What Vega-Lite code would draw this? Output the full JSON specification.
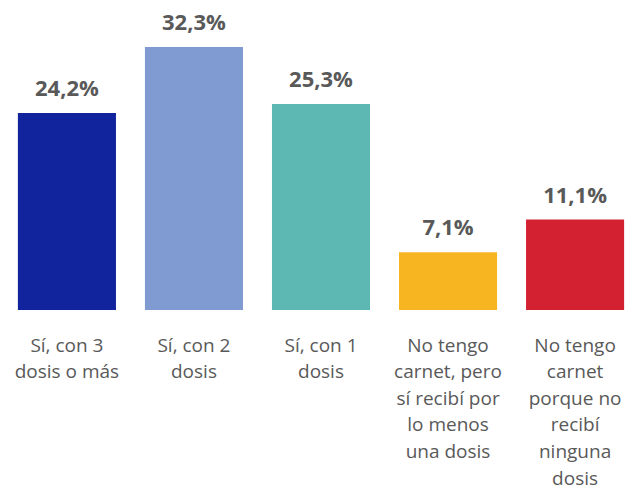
{
  "$schema": "https://vega.github.io/schema/vega-lite/v6.json",
  "width": 624,
  "height": 285,
  "autosize": {"type": "none"},
  "padding": {"left": 9, "top": 25, "right": 2, "bottom": 179},
  "background": "white",
  "config": {"view": {"stroke": null}, "font": "Open Sans"},
  "data": {
    "values": [
      {"cat": "Sí, con 3|dosis o más", "pct": 24.2, "label": "24,2%", "color": "#12239E"},
      {"cat": "Sí, con 2|dosis", "pct": 32.3, "label": "32,3%", "color": "#7F9BD1"},
      {"cat": "Sí, con 1|dosis", "pct": 25.3, "label": "25,3%", "color": "#5DB7B2"},
      {"cat": "No tengo|carnet, pero|sí recibí por|lo menos|una dosis", "pct": 7.1, "label": "7,1%", "color": "#F7B521"},
      {"cat": "No tengo|carnet|porque no|recibí|ninguna|dosis", "pct": 11.1, "label": "11,1%", "color": "#D42131"}
    ]
  },
  "encoding": {
    "x": {
      "field": "cat",
      "type": "nominal",
      "sort": null,
      "scale": {"paddingInner": 0.228, "paddingOuter": 0.07},
      "axis": {
        "title": null,
        "labelAngle": 0,
        "labelExpr": "split(datum.value, '|')",
        "labelFont": "Open Sans",
        "labelFontSize": 19,
        "labelColor": "#595959",
        "labelLineHeight": 26.6,
        "labelPadding": 26,
        "labelBaseline": "top",
        "domain": false,
        "ticks": false,
        "labelLimit": 0
      }
    },
    "y": {
      "field": "pct",
      "type": "quantitative",
      "scale": {"domain": [0, 35]},
      "axis": null
    }
  },
  "layer": [
    {
      "mark": {"type": "bar"},
      "encoding": {"color": {"field": "color", "type": "nominal", "scale": null}}
    },
    {
      "mark": {"type": "text", "baseline": "bottom", "dy": -12, "font": "Open Sans", "fontWeight": "bold", "fontSize": 22, "color": "#595959"},
      "encoding": {"text": {"field": "label"}}
    }
  ]
}
